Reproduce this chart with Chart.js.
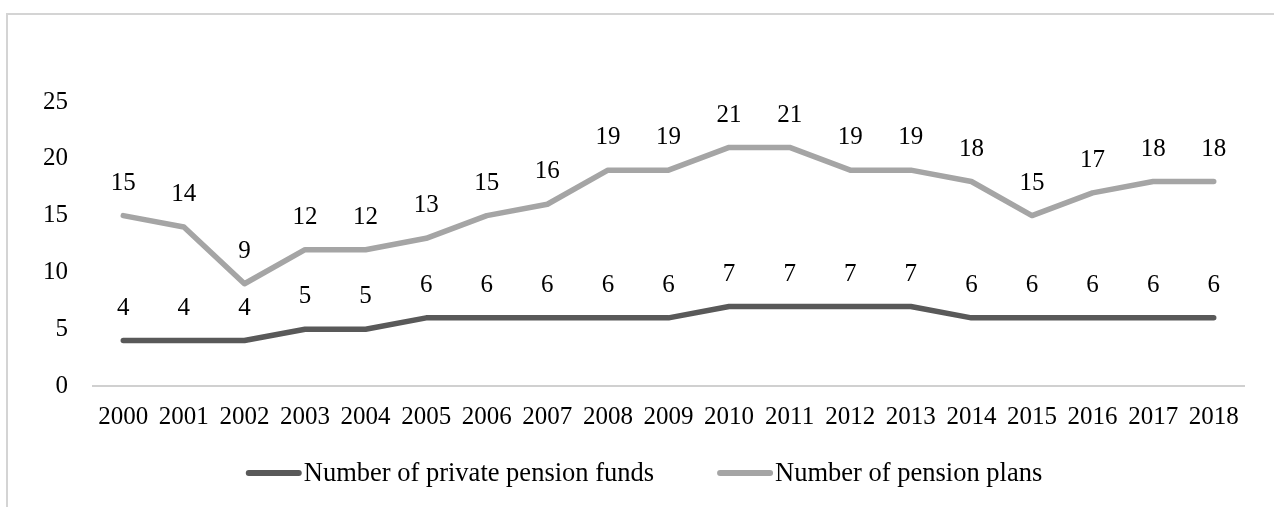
<!DOCTYPE html>
<html>
<head>
<meta charset="utf-8">
<script src="https://cdn.jsdelivr.net/npm/chart.js@4.4.1/dist/chart.umd.min.js"></script>
<style>
  html, body { margin: 0; padding: 0; background: #fff; }
  body { width: 1274px; height: 507px; overflow: hidden; position: relative; }
  .frame {
    position: absolute; left: 6px; top: 13px; width: 1300px; height: 520px;
    border-left: 2px solid #d4d4d4; border-top: 2px solid #d4d4d4;
  }
  #chart-wrap { position: absolute; left: 0; top: 0; width: 1274px; height: 507px; }
</style>
</head>
<body>
<div class="frame"></div>
<div id="chart-wrap"><canvas id="pension-chart"></canvas></div>
<script>
// Années et séries
const years = ['2000', '2001', '2002', '2003', '2004', '2005', '2006', '2007', '2008', '2009',
               '2010', '2011', '2012', '2013', '2014', '2015', '2016', '2017', '2018'];
const privateFunds = [4, 4, 4, 5, 5, 6, 6, 6, 6, 6, 7, 7, 7, 7, 6, 6, 6, 6, 6];
const pensionPlans = [15, 14, 9, 12, 12, 13, 15, 16, 19, 19, 21, 21, 19, 19, 18, 15, 17, 18, 18];
const yTicks = [0, 5, 10, 15, 20, 25];

const SERIF = '"Liberation Serif", "Times New Roman", serif';
const FONT = { family: SERIF, size: 25 };
const LEGEND_FONT_SIZE = 26.5;

// Étiquettes de valeur au-dessus de chaque point
const valueLabels = {
    id: 'valueLabels',
    afterDatasetsDraw(chart) {
        const ctx = chart.ctx;
        ctx.save();
        ctx.font = `${FONT.size}px ${SERIF}`;
        ctx.fillStyle = '#000';
        ctx.textAlign = 'center';
        ctx.textBaseline = 'bottom';
        chart.data.datasets.forEach((ds, i) => {
            const meta = chart.getDatasetMeta(i);
            meta.data.forEach((pt, j) => {
                ctx.fillText(String(ds.data[j]), pt.x, pt.y - 20);
            });
        });
        ctx.restore();
    }
};

// Légende en bas : trait court collé au texte, grand espace entre les séries
const lineLegend = {
    id: 'lineLegend',
    afterDraw(chart) {
        const ctx = chart.ctx;
        const lineLen = 56, textGap = 2, itemGap = 63;
        const y = 473;
        ctx.save();
        ctx.font = `${LEGEND_FONT_SIZE}px ${SERIF}`;
        const items = chart.data.datasets.map(ds => ({
            text: ds.label,
            color: ds.borderColor,
            width: ctx.measureText(ds.label).width
        }));
        const total = items.reduce((s, it) => s + lineLen + textGap + it.width, 0) + itemGap * (items.length - 1);
        let x = 644 - total / 2;
        items.forEach(it => {
            ctx.strokeStyle = it.color;
            ctx.lineWidth = 6;
            ctx.lineCap = 'round';
            ctx.beginPath();
            ctx.moveTo(x + 3, y);
            ctx.lineTo(x + lineLen - 3, y);
            ctx.stroke();
            x += lineLen + textGap;
            ctx.fillStyle = '#000';
            ctx.textAlign = 'left';
            ctx.textBaseline = 'middle';
            ctx.fillText(it.text, x, y + 1);
            x += it.width + itemGap;
        });
        ctx.restore();
    }
};

const ctx = document.getElementById('pension-chart').getContext('2d');
const chart = new Chart(ctx, {
    type: 'line',
    data: {
        labels: years,
        datasets: [
            {
                label: 'Number of private pension funds',
                data: privateFunds,
                borderColor: '#595959',
                backgroundColor: '#595959',
                borderWidth: 5.5,
                borderCapStyle: 'round',
                borderJoinStyle: 'round',
                pointRadius: 0,
                tension: 0
            },
            {
                label: 'Number of pension plans',
                data: pensionPlans,
                borderColor: '#a5a5a5',
                backgroundColor: '#a5a5a5',
                borderWidth: 5.5,
                borderCapStyle: 'round',
                borderJoinStyle: 'round',
                pointRadius: 0,
                tension: 0
            }
        ]
    },
    options: {
        responsive: true,
        maintainAspectRatio: false,
        animation: false,
        layout: {
            padding: { top: 102, left: 30, right: 30, bottom: 61 }
        },
        plugins: {
            tooltip: { enabled: false },
            legend: { display: false }
        },
        scales: {
            x: {
                offset: true,
                grid: { display: false, drawTicks: false },
                border: { display: true, color: '#d0d0d0', width: 2 },
                ticks: {
                    color: '#000',
                    font: FONT,
                    padding: 16,
                    maxRotation: 0,
                    autoSkip: false
                },
                afterFit(scale) { scale.height = 60; }
            },
            y: {
                min: 0,
                max: 25,
                grid: { display: false, drawTicks: false },
                border: { display: false },
                ticks: {
                    color: '#000',
                    font: FONT,
                    padding: 25,
                    stepSize: 5
                },
                afterBuildTicks(scale) {
                    scale.ticks = yTicks.map(v => ({ value: v }));
                },
                afterFit(scale) { scale.width = 63; }
            }
        }
    },
    plugins: [valueLabels, lineLegend]
});
</script>
</body>
</html>
